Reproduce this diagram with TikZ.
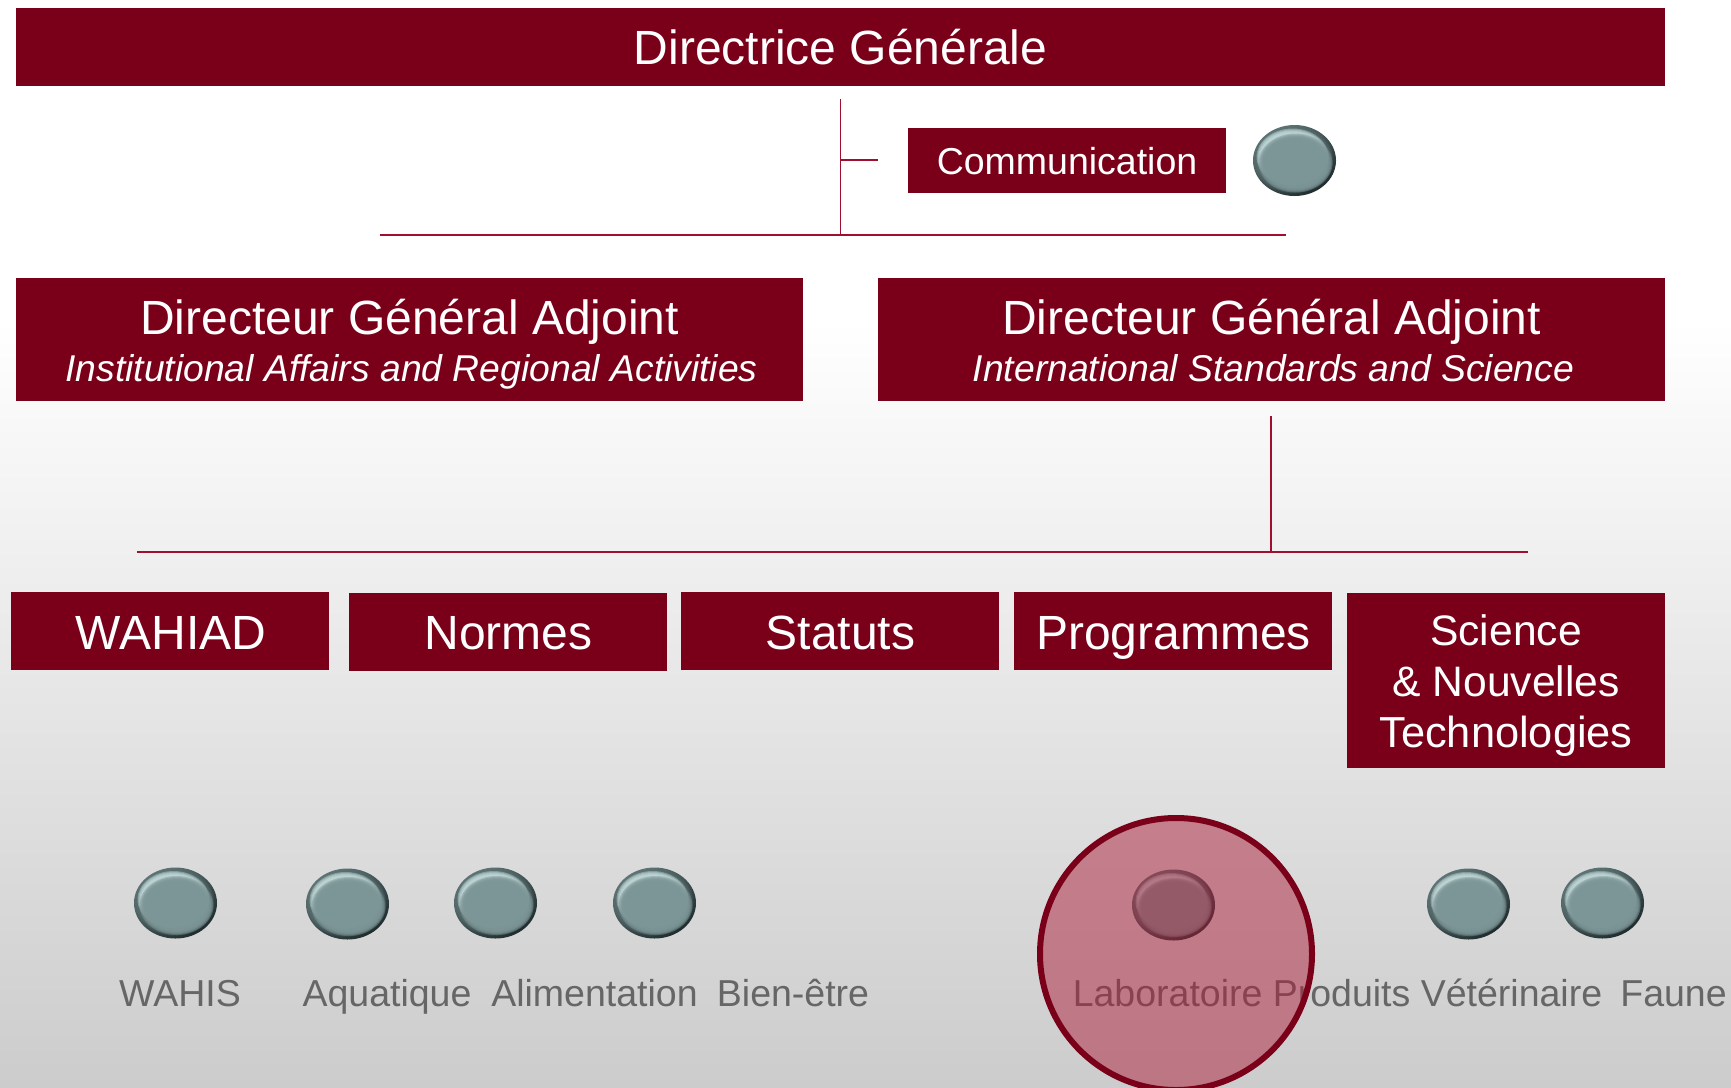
\documentclass[tikz,border=0pt]{standalone}
\usepackage{fontspec}
\setmainfont{Liberation Sans}
\definecolor{oie}{HTML}{7A0019}
\definecolor{rulec}{HTML}{A0102E}
\definecolor{lbl}{HTML}{666666}
\definecolor{beadc}{HTML}{7C9596}
\definecolor{beadd}{HTML}{1F2C2E}
\definecolor{beadt}{HTML}{5F7678}
\definecolor{beadl}{HTML}{C4DCDC}
\tikzset{
  x=1pt,y=-1pt,
  rule/.style={draw=rulec,line width=1.5pt},
  big/.style={text=white,anchor=base,inner sep=0pt,font=\fontsize{48}{50}\selectfont},
  mid/.style={text=white,anchor=base,inner sep=0pt,font=\fontsize{42.6}{50}\selectfont},
  ital/.style={text=white,anchor=base,inner sep=0pt,font=\itshape\fontsize{37.3}{40}\selectfont},
  lab/.style={text=lbl,font=\fontsize{37.5}{40}\selectfont,anchor=base,inner sep=0pt},
}
\newcommand{\bead}[2]{%
  \begin{scope}[shift={(#1,#2)}]
    \shade[top color=beadt,bottom color=beadd,shading angle=35] (0,0) ellipse [x radius=41.5,y radius=35.5];
    \foreach \k in {0,...,6}{\fill[beadc!75!black,opacity=.25] (-1.2,-0.8) ellipse [x radius={40-\k},y radius={33.5-\k}];}
    \foreach \k in {0,...,4}{\fill[beadl,opacity=.42] (-2,-3.5) ellipse [x radius={36-\k},y radius={28.5-\k}];}
    \foreach \k in {0,...,7}{\fill[beadc,opacity=.45] (1,2.5) ellipse [x radius={37-\k},y radius={29.5-\k}];}
  \end{scope}}
\begin{document}
\begin{tikzpicture}
\useasboundingbox (0,0) rectangle (1731,1087);
\shade[top color=white,bottom color=black!20] (0,320) rectangle (1731,1087);

\fill[oie] (15.5,8) rectangle (1665,86);
\node[big] (dg) at (840.5,64.5) {Directrice Générale};

\coordinate (t1) at (840.5,99); \coordinate (t2) at (840.5,235);
\coordinate (t3) at (840.5,160); \coordinate (t4) at (878,160);
\coordinate (h1) at (380,235); \coordinate (h2) at (1286,235);
\draw[rule] (t1) -- (t2); \draw[rule] (t3) -- (t4); \draw[rule] (h1) -- (h2);

\fill[oie] (907.5,128) rectangle (1225.5,193);
\node[text=white,font=\fontsize{37.5}{40}\selectfont] (com) at (1067,161) {Communication};
\bead{1294.5}{160.5}

\fill[oie] (15.5,278) rectangle (803,401);
\node[big] (a1) at (409.5,334) {Directeur Général Adjoint};
\node[ital] (a2) at (411.5,381) {Institutional Affairs and Regional Activities};
\fill[oie] (878,278) rectangle (1665,401);
\node[big] (b1) at (1271.5,334) {Directeur Général Adjoint};
\node[ital] (b2) at (1273.5,381) {International Standards and Science};

\coordinate (v1) at (1271,416); \coordinate (v2) at (1271,552);
\coordinate (h3) at (137,552); \coordinate (h4) at (1528,552);
\draw[rule] (v1) -- (v2); \draw[rule] (h3) -- (h4);

\fill[oie] (11,592) rectangle (329,670);
\node[big] (d1) at (171,649) {WAHIAD};
\fill[oie] (349,593) rectangle (667,671);
\node[big] (d2) at (508.5,649) {Normes};
\fill[oie] (681,592) rectangle (999,670);
\node[big] (d3) at (840.5,649) {Statuts};
\fill[oie] (1014,592) rectangle (1332,670);
\node[big] (d4) at (1173.5,649) {Programmes};
\fill[oie] (1347,593) rectangle (1665,768);
\node[mid] (d5a) at (1506,645) {Science};
\node[mid] (d5b) at (1506,696) {\& Nouvelles};
\node[mid,font=\fontsize{43.4}{50}\selectfont] (d5c) at (1506,747) {Technologies};

\bead{175.5}{903}\bead{347.5}{904}\bead{495.5}{903}\bead{654.5}{903}
\bead{1173.5}{905}\bead{1468.5}{904}\bead{1602.5}{903}

\node[lab] (l1) at (180,1006) {WAHIS};
\node[lab] (l2) at (387,1006) {Aquatique};
\node[lab] (l3) at (594.5,1006) {Alimentation};
\node[lab] (l4) at (793,1006) {Bien-être};
\node[lab] (l5) at (1337.5,1006) {Laboratoire Produits Vétérinaire};
\node[lab] (l6) at (1673.5,1006) {Faune};

\path[fill={rgb,255:red,172;green,32;blue,60},fill opacity=.5,draw=oie,line width=6pt,draw opacity=1] (1176,954) circle (136);
\end{tikzpicture}
\end{document}
